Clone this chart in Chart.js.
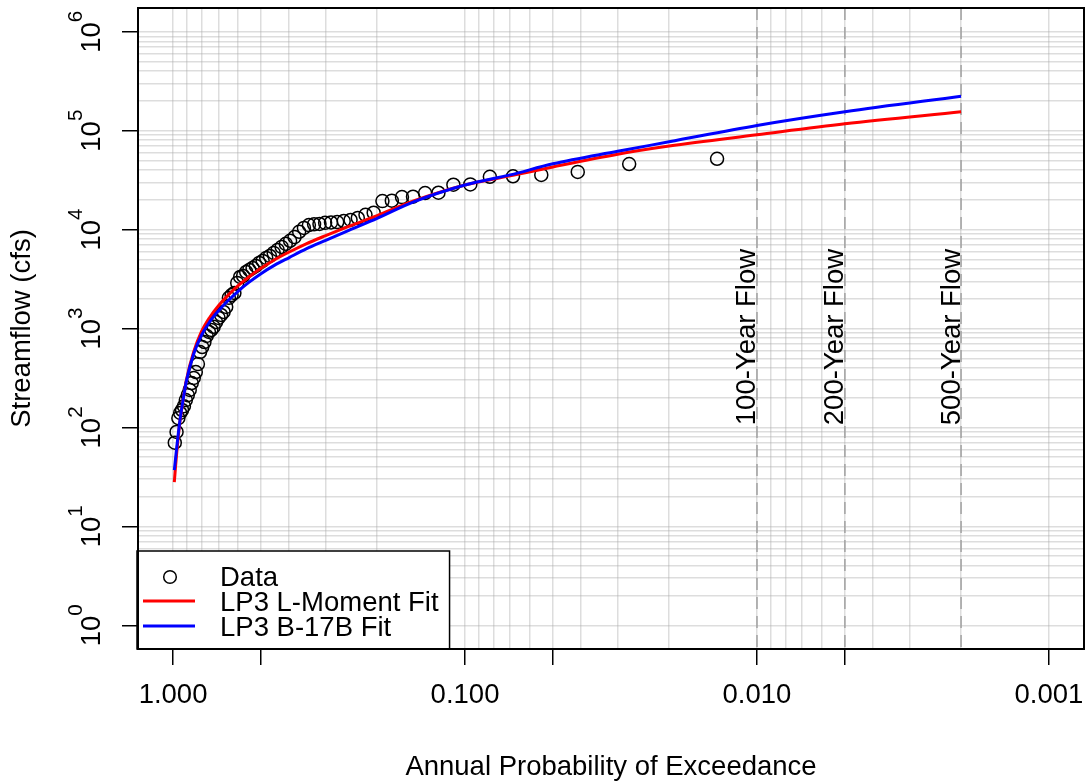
<!DOCTYPE html>
<html>
<head>
<meta charset="utf-8">
<title>Flood frequency</title>
<script src="https://cdn.jsdelivr.net/npm/chart.js@4/dist/chart.umd.min.js"></script>
<style>
  html, body { margin: 0; padding: 0; background: #fff; }
  canvas { display: block; }
</style>
</head>
<body>
<canvas id="freqChart" width="1085" height="783"></canvas>
<script>
// annual peaks, ranked largest first, with their plotting positions
const exceedProb = [
  0.0137, 0.0274, 0.0411, 0.0548, 0.0685, 0.0822, 0.0959, 0.1096, 0.1233, 0.1370,
  0.1507, 0.1644, 0.1781, 0.1918, 0.2055, 0.2192, 0.2329, 0.2466, 0.2603, 0.2740,
  0.2877, 0.3014, 0.3151, 0.3288, 0.3425, 0.3562, 0.3699, 0.3836, 0.3973, 0.4110,
  0.4247, 0.4384, 0.4521, 0.4658, 0.4795, 0.4932, 0.5068, 0.5205, 0.5342, 0.5479,
  0.5616, 0.5753, 0.5890, 0.6027, 0.6164, 0.6301, 0.6438, 0.6575, 0.6712, 0.6849,
  0.6986, 0.7123, 0.7260, 0.7397, 0.7534, 0.7671, 0.7808, 0.7945, 0.8082, 0.8219,
  0.8356, 0.8493, 0.8630, 0.8767, 0.8904, 0.9041, 0.9178, 0.9315, 0.9452, 0.9589,
  0.9726, 0.9863
];
const peakFlow = [
  52000, 46000, 38300, 35700, 34600, 34200, 28600, 28400, 23600, 23400,
  21500, 21300, 19600, 19400, 14800, 14100, 13100, 12500, 12200, 11900,
  11800, 11700, 11400, 11300, 11100, 10400, 9500, 8400, 7700, 7170,
  6680, 6230, 5810, 5410, 5170, 4820, 4600, 4290, 4090, 3910,
  3730, 3400, 3320, 2890, 2290, 2180, 2040, 1650, 1470, 1370,
  1280, 1160, 1040, 966, 922, 840, 730, 650, 578, 437,
  363, 316, 281, 239, 212, 189, 164, 150, 140, 124,
  90, 70
];

// fitted LP3 quantiles
const fitProb = [
  0.99, 0.98, 0.97, 0.95, 0.93, 0.9, 0.85, 0.8, 0.75, 0.7, 0.65, 0.6, 0.55, 0.5,
  0.45, 0.4, 0.35, 0.3, 0.25, 0.2, 0.15, 0.1, 0.07, 0.05, 0.03, 0.02, 0.01, 0.005, 0.002
];
const lmomFit = [
  28, 41, 58, 106, 166, 301, 578, 922, 1286, 1689, 2148, 2693, 3320, 4065,
  4932, 5934, 7180, 8690, 10770, 13840, 19460, 28250, 34900, 43000, 57800, 69800, 90800, 117300, 155200
];
const b17bFit = [
  37, 49, 65, 110, 168, 294, 552, 849, 1164, 1504, 1897, 2366, 2922, 3580,
  4345, 5215, 6380, 7780, 9810, 12970, 19050, 28250, 35700, 46200, 61800, 77100, 112800, 155200, 222700
];

const returnPeriods = [100, 200, 500];
const labelFlow = 820;

const xTickMarks = [1, 0.5, 0.1, 0.05, 0.01, 0.005, 0.001];
const xTickLabels = ['1.000', '', '0.100', '', '0.010', '', '0.001'];
const yTickMarks = [1, 10, 100, 1000, 10000, 100000, 1000000];

const FONT = 'Liberation Sans, Arial, Helvetica, sans-serif';
const FS = 27.5;
Chart.defaults.font.family = FONT;
Chart.defaults.font.size = FS;
Chart.defaults.color = '#000';

// 1..9 x 10^k grid values between two decades
function decadeGrid(lo, hi) {
  const out = [];
  for (let k = lo; k < hi; k++) {
    for (let m = 1; m < 10; m++) out.push(+(m * Math.pow(10, k)).toPrecision(4));
  }
  out.push(+Math.pow(10, hi).toPrecision(4));
  return out;
}
const xGrid = decadeGrid(-3, 0);
const yGrid = decadeGrid(0, 6);

const gridColor = 'rgba(170,170,170,0.4)';

const frame = {
  id: 'frame',
  beforeDatasetsDraw(chart) {
    const { ctx, chartArea: a, scales: { x } } = chart;
    ctx.save();
    ctx.strokeStyle = '#a6a6a6';
    ctx.lineWidth = 1.6;
    ctx.setLineDash([12, 7]);
    returnPeriods.forEach(t => {
      const px = x.getPixelForValue(1 / t);
      ctx.beginPath();
      ctx.moveTo(px, a.top);
      ctx.lineTo(px, a.bottom);
      ctx.stroke();
    });
    ctx.restore();
  },
  afterDraw(chart) {
    const { ctx, chartArea: a, scales: { x, y } } = chart;
    ctx.save();

    // return period labels
    ctx.fillStyle = '#000';
    ctx.font = FS + 'px ' + FONT;
    ctx.textAlign = 'center';
    ctx.textBaseline = 'alphabetic';
    returnPeriods.forEach(t => {
      ctx.save();
      ctx.translate(x.getPixelForValue(1 / t) - 1.5, y.getPixelForValue(labelFlow));
      ctx.rotate(-Math.PI / 2);
      ctx.fillText(t + '-Year Flow', 0, 0);
      ctx.restore();
    });

    // y tick labels as 10^n
    const supSize = FS * 0.75;
    yTickMarks.forEach(v => {
      const py = y.getPixelForValue(v);
      const exp = String(Math.round(Math.log10(v)));
      ctx.font = FS + 'px ' + FONT;
      const w1 = ctx.measureText('10').width;
      ctx.font = supSize + 'px ' + FONT;
      const w2 = ctx.measureText(exp).width;
      const start = -(w1 + w2) / 2;
      ctx.save();
      ctx.translate(100, py);
      ctx.rotate(-Math.PI / 2);
      ctx.textAlign = 'left';
      ctx.font = FS + 'px ' + FONT;
      ctx.fillText('10', start, 0);
      ctx.font = supSize + 'px ' + FONT;
      ctx.fillText(exp, start + w1, -18);
      ctx.restore();
    });

    // legend
    const sets = chart.data.datasets;
    ctx.font = FS + 'px ' + FONT;
    const textW = Math.max(...sets.map(d => ctx.measureText(d.label).width));
    const lx = a.left - 1, lw = 83 + textW + 11;
    const lb = a.bottom, lt = lb - 98;
    ctx.fillStyle = '#fff';
    ctx.fillRect(lx, lt, lw, lb - lt);
    ctx.strokeStyle = '#000';
    ctx.lineWidth = 1.5;
    ctx.strokeRect(lx, lt, lw, lb - lt);
    sets.forEach((d, i) => {
      const cy = lt + 25 + i * 25;
      if (d.showLine) {
        ctx.strokeStyle = d.borderColor;
        ctx.lineWidth = 3;
        ctx.beginPath();
        ctx.moveTo(lx + 6, cy);
        ctx.lineTo(lx + 58, cy);
        ctx.stroke();
      } else {
        ctx.strokeStyle = '#000';
        ctx.lineWidth = 1.5;
        ctx.beginPath();
        ctx.arc(lx + 33, cy + 1, 6.3, 0, Math.PI * 2);
        ctx.stroke();
      }
      ctx.fillStyle = '#000';
      ctx.textAlign = 'left';
      ctx.textBaseline = 'alphabetic';
      ctx.fillText(d.label, lx + 83, cy + 10);
    });

    // plot box
    ctx.strokeStyle = '#000';
    ctx.lineWidth = 2;
    ctx.strokeRect(a.left, a.top, a.right - a.left, a.bottom - a.top);
    ctx.restore();
  }
};

const pts = (xs, ys) => xs.map((p, i) => ({ x: p, y: ys[i] }));

new Chart(document.getElementById('freqChart').getContext('2d'), {
  type: 'scatter',
  data: {
    datasets: [
      {
        label: 'Data',
        data: pts(exceedProb, peakFlow),
        showLine: false,
        pointStyle: 'circle',
        pointRadius: 6.5,
        pointBorderWidth: 1.5,
        pointBorderColor: '#000',
        pointBackgroundColor: 'rgba(0,0,0,0)',
        order: 3
      },
      {
        label: 'LP3 L-Moment Fit',
        data: pts(fitProb, lmomFit),
        showLine: true,
        borderColor: '#ff0000',
        borderWidth: 3,
        pointRadius: 0,
        cubicInterpolationMode: 'monotone',
        order: 2
      },
      {
        label: 'LP3 B-17B Fit',
        data: pts(fitProb, b17bFit),
        showLine: true,
        borderColor: '#0000ff',
        borderWidth: 3,
        pointRadius: 0,
        cubicInterpolationMode: 'monotone',
        order: 1
      }
    ]
  },
  options: {
    responsive: false,
    animation: false,
    events: [],
    layout: { autoPadding: false, padding: { left: 0, right: 1, top: 8, bottom: 0 } },
    plugins: {
      legend: { display: false },
      tooltip: { enabled: false }
    },
    scales: {
      x: {
        type: 'logarithmic',
        reverse: true,
        min: Math.pow(10, -3.12),
        max: Math.pow(10, 0.12),
        z: 1,
        border: { display: false },
        afterBuildTicks: s => { s.ticks = xGrid.map(v => ({ value: v })); },
        afterFit: s => { s.height = 134; s.paddingLeft = 0; s.paddingRight = 0; },
        ticks: {
          autoSkip: false,
          maxRotation: 0,
          minRotation: 0,
          padding: 14,
          callback: v => {
            const i = xTickMarks.indexOf(v);
            return i >= 0 ? xTickLabels[i] : '';
          }
        },
        grid: {
          color: gridColor,
          lineWidth: 1.5,
          tickLength: 16,
          tickWidth: 1.5,
          tickColor: c => xTickMarks.includes(c.tick.value) ? '#000' : 'rgba(0,0,0,0)'
        },
        title: {
          display: true,
          text: 'Annual Probability of Exceedance',
          padding: { top: 0, bottom: -1 }
        }
      },
      y: {
        type: 'logarithmic',
        min: Math.pow(10, -0.24),
        max: Math.pow(10, 6.24),
        z: 1,
        border: { display: false },
        afterBuildTicks: s => { s.ticks = yGrid.map(v => ({ value: v })); },
        afterFit: s => { s.width = 138; },
        ticks: { display: false },
        grid: {
          color: gridColor,
          lineWidth: 1.5,
          tickLength: 16,
          tickWidth: 1.5,
          tickColor: c => yTickMarks.includes(c.tick.value) ? '#000' : 'rgba(0,0,0,0)'
        },
        title: {
          display: true,
          text: 'Streamflow (cfs)',
          padding: { top: 6, bottom: 0 }
        }
      }
    }
  },
  plugins: [frame]
});
</script>
</body>
</html>
